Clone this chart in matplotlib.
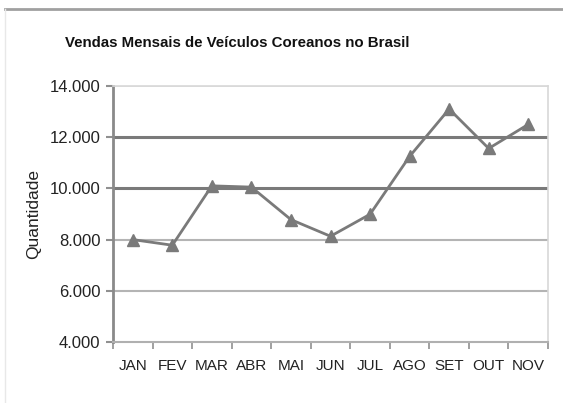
import numpy as np
import matplotlib.pyplot as plt
from matplotlib.lines import Line2D
from matplotlib.ticker import FuncFormatter

meses = ["JAN", "FEV", "MAR", "ABR", "MAI", "JUN", "JUL", "AGO", "SET", "OUT", "NOV"]
vendas = [8000, 7780, 10100, 10050, 8780, 8130, 8990, 11250, 13100, 11560, 12500]   # unidades
yticks = [4000, 6000, 8000, 10000, 12000, 14000]

plt.rcParams['font.family'] = ['Liberation Sans', 'DejaVu Sans']

fig = plt.figure(figsize=(5.63, 4.03), dpi=100)
ax = fig.add_axes([0.2007, 0.1514, 0.7727, 0.6352])

# moldura externa
fig.add_artist(Line2D([5/563, 1], [1-9/403, 1-9/403], color="#a0a0a0", lw=2, transform=fig.transFigure))
fig.add_artist(Line2D([5/563, 5/563], [0, 1-9/403], color="#e8e8e8", lw=1, transform=fig.transFigure))

x = np.arange(len(meses))

# linhas de grade
for v in yticks[1:-1]:
    if v in (10000, 12000):
        ax.axhline(v, color="#7a7a7a", lw=2.2, zorder=1)
    else:
        ax.axhline(v, color="#b4b4b4", lw=1.5, zorder=1)
ax.axhline(14000, color="#d8d8d8", lw=1.2, zorder=1)

ax.plot(x, vendas, color="#7a7a7a", lw=2, marker="^", markersize=9,
        markerfacecolor="#7a7a7a", markeredgecolor="#7a7a7a", zorder=3)

ax.set_xlim(-0.5, len(meses) - 0.5)
ax.set_ylim(4000, 14000)
ax.set_yticks(yticks)
ax.yaxis.set_major_formatter(FuncFormatter(lambda v, p: "{:,.0f}".format(v).replace(",", ".")))
ax.set_xticks(x)
ax.set_xticklabels(meses)
ax.set_xticks(np.arange(-0.5, len(meses)), minor=True)
ax.tick_params(axis="x", which="major", length=0, pad=12, labelsize=11, colors="#222222")
ax.tick_params(axis="x", which="minor", length=5, width=1.2, color="#909090", direction="out")
ax.tick_params(axis="y", length=5, width=1.5, labelsize=12, pad=4)
ax.tick_params(axis="y", colors="#909090", labelcolor="#222222")

for s in ["top", "right"]:
    ax.spines[s].set_color("#d8d8d8")
    ax.spines[s].set_linewidth(1.2)
ax.spines["left"].set_color("#8a8a8a")
ax.spines["left"].set_linewidth(2)
ax.spines["bottom"].set_color("#b0b0b0")
ax.spines["bottom"].set_linewidth(1.5)

ax.set_ylabel("Quantidade", fontsize=12.5, color="#222222", labelpad=6)

fig.text(65/563, 1-43/403, "Vendas Mensais de Veículos Coreanos no Brasil",
         fontsize=10.8, fontweight="bold", color="#111111", va="center", ha="left")

fig.savefig("out.png", dpi=100, facecolor="white")
